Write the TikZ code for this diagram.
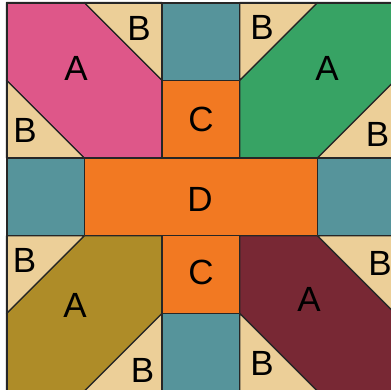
\documentclass[tikz,border=0pt]{standalone}
\usepackage{fontspec}
\setmainfont{Liberation Sans}
\definecolor{quiltpink}{HTML}{DE5789}
\definecolor{quiltgreen}{HTML}{37A364}
\definecolor{quiltolive}{HTML}{AE8C28}
\definecolor{quiltmaroon}{HTML}{782834}
\definecolor{quilttan}{HTML}{ECCF98}
\definecolor{quiltteal}{HTML}{56949B}
\definecolor{quiltorange}{HTML}{F27922}

\begin{document}
\begin{tikzpicture}[
  x=1pt,y=-1pt,
  patch/.style={draw=black!85,line width=1.2pt,line join=round},
  corner/.style={patch,fill=quilttan},
  lbl/.style={font=\fontsize{35}{35}\selectfont,inner sep=0pt}
]
  \useasboundingbox (0,0) rectangle (391,389);
  \clip (0,0) rectangle (391,389);
  \begin{scope}[shift={(6.5pt,-2.5pt)},x=77.75pt,y=-77.75pt]
    % big A patches
    \draw[patch,fill=quiltpink] (0,0) -- (1,0) -- (2,1) -- (2,2) -- (1,2) -- (0,1) -- cycle;
    \draw[patch,fill=quiltgreen] (4,0) -- (5,0) -- (5,1) -- (4,2) -- (3,2) -- (3,1) -- cycle;
    \draw[patch,fill=quiltolive] (0,4) -- (1,3) -- (2,3) -- (2,4) -- (1,5) -- (0,5) -- cycle;
    \draw[patch,fill=quiltmaroon] (3,3) -- (4,3) -- (5,4) -- (5,5) -- (4,5) -- (3,4) -- cycle;
    % B corners
    \draw[corner] (1,0) -- (2,0) -- (2,1) -- cycle;
    \draw[corner] (0,1) -- (1,2) -- (0,2) -- cycle;
    \draw[corner] (3,0) -- (4,0) -- (3,1) -- cycle;
    \draw[corner] (5,1) -- (5,2) -- (4,2) -- cycle;
    \draw[corner] (0,3) -- (1,3) -- (0,4) -- cycle;
    \draw[corner] (2,4) -- (2,5) -- (1,5) -- cycle;
    \draw[corner] (4,3) -- (5,3) -- (5,4) -- cycle;
    \draw[corner] (3,4) -- (4,5) -- (3,5) -- cycle;
    % squares, C and D
    \foreach \c/\r in {2/0,0/2,4/2,2/4}
      \draw[patch,fill=quiltteal] (\c,\r) rectangle ++(1,1);
    \draw[patch,fill=quiltorange] (2,1) rectangle (3,2);
    \draw[patch,fill=quiltorange] (2,3) rectangle (3,4);
    \draw[patch,fill=quiltorange] (1,2) rectangle (4,3);
    \draw[draw=black!85,line width=2pt] (0,0) rectangle (5,5);

    \node[lbl] (aNW) at (0.894,0.849) {A};
    \node[lbl] (aNE) at (4.122,0.849) {A};
    \node[lbl] (aSW) at (0.881,3.897) {A};
    \node[lbl] (aSE) at (3.891,3.813) {A};
    \node[lbl] (bNWtop) at (1.704,0.328) {B};
    \node[lbl] (bNWleft) at (0.238,1.640) {B};
    \node[lbl] (bNEtop) at (3.286,0.322) {B};
    \node[lbl] (bNEright) at (4.772,1.691) {B};
    \node[lbl] (bSWleft) at (0.232,3.318) {B};
    \node[lbl] (bSWbot) at (1.749,4.727) {B};
    \node[lbl] (bSEright) at (4.804,3.350) {B};
    \node[lbl] (bSEbot) at (3.286,4.637) {B};
    \node[lbl] (cTop) at (2.502,1.505) {C};
    \node[lbl] (cBot) at (2.502,3.466) {C};
    \node[lbl] (dMid) at (2.489,2.527) {D};
  \end{scope}
\end{tikzpicture}
\end{document}
